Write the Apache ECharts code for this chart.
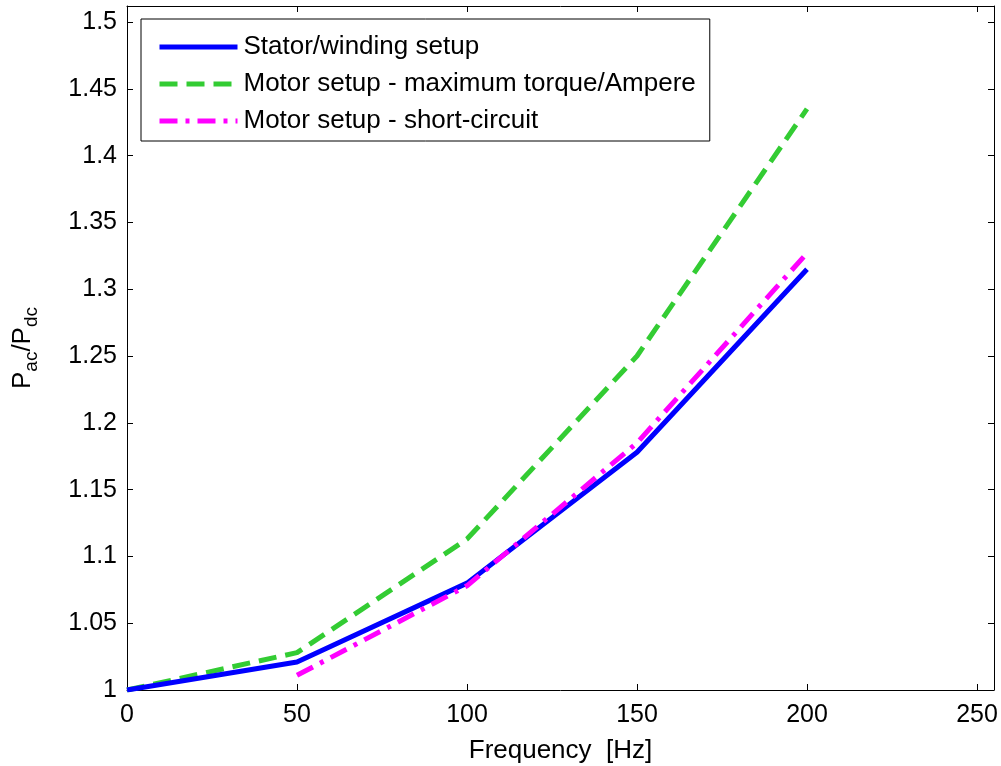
<!DOCTYPE html>
<html>
<head>
<meta charset="utf-8">
<script src="https://cdn.jsdelivr.net/npm/echarts@6/dist/echarts.min.js"></script>
<style>
html,body{margin:0;padding:0;background:#fff;}
#c{width:1001px;height:766px;}
</style>
</head>
<body>
<div id="c"></div>
<script>
const freq = [0, 50, 100, 150, 200];
const stator = [1.0, 1.021, 1.08, 1.178, 1.315];
const motorMTPA = [1.0, 1.028, 1.113, 1.25, 1.435];
const shortCircuit = [null, 1.011, 1.078, 1.185, 1.327];
const seriesNames = ['Stator/winding setup', 'Motor setup - maximum torque/Ampere', 'Motor setup - short-circuit'];
const xTicks = [0, 50, 100, 150, 200, 250];
const yTicks = [1, 1.05, 1.1, 1.15, 1.2, 1.25, 1.3, 1.35, 1.4, 1.45, 1.5];

const FONT = 'Liberation Sans, Arial, sans-serif';
function pairs(ys){ return freq.map((x,i)=>[x, ys[i]]); }
function isTick(list, v){ return list.some(t => Math.abs(t - v) < 1e-9); }

const chart = echarts.init(document.getElementById('c'), null, {renderer:'canvas'});
const axCommon = {
  axisLine:{show:true, onZero:false, lineStyle:{color:'#000', width:1}},
  axisTick:{show:true, inside:true, length:6, lineStyle:{color:'#000', width:1}},
  splitLine:{show:false}
};
chart.setOption({
  animation:false,
  backgroundColor:'#fff',
  textStyle:{fontFamily:FONT},
  grid:{left:127, top:6, right:7, bottom:76, containLabel:false, outerBoundsMode:'none'},
  legend:{
    orient:'vertical', left:141, top:19,
    data:seriesNames,
    itemWidth:78, itemHeight:14, itemGap:11,
    padding:[15,14,7,16],
    borderColor:'#000', borderWidth:1, backgroundColor:'#fff',
    itemStyle:{opacity:0, borderWidth:0},
    lineStyle:{width:5},
    textStyle:{fontFamily:FONT, fontSize:26, color:'#000', padding:[0,0,0,1]},
    selectedMode:false
  },
  xAxis:[
    Object.assign({}, axCommon, {
      type:'value', min:0, max:255, interval:50, position:'bottom',
      name:'Frequency  [Hz]', nameLocation:'middle', nameGap:48,
      nameTextStyle:{fontFamily:FONT, fontSize:26, color:'#000'},
      axisLabel:{fontFamily:FONT, fontSize:25, color:'#000', margin:13,
        formatter:v => isTick(xTicks, v) ? String(v) : ''}
    }),
    Object.assign({}, axCommon, {
      type:'value', min:0, max:255, interval:50, position:'top',
      axisLabel:{show:false}
    })
  ],
  yAxis:[
    Object.assign({}, axCommon, {
      type:'value', min:1, max:1.512, interval:0.05, position:'left',
      name:'{p|P}{s|ac}{p|/P}{s|dc}', nameLocation:'middle', nameGap:86, nameRotate:90,
      nameTextStyle:{fontFamily:FONT, color:'#000',
        rich:{
          p:{fontFamily:FONT, fontSize:26, color:'#000'},
          s:{fontFamily:FONT, fontSize:19, color:'#000', padding:[18,0,0,0]}
        }},
      axisLabel:{fontFamily:FONT, fontSize:25, color:'#000', margin:10,
        formatter:v => isTick(yTicks, v) ? String(parseFloat(v.toFixed(2))) : ''}
    }),
    Object.assign({}, axCommon, {
      type:'value', min:1, max:1.512, interval:0.05, position:'right',
      axisLabel:{show:false}
    })
  ],
  series:[
    {name:seriesNames[0], type:'line', data:pairs(stator), symbol:'none', showSymbol:false,
     lineStyle:{color:'#0000ff', width:5, type:'solid'}, itemStyle:{color:'#0000ff'}, z:3},
    {name:seriesNames[1], type:'line', data:pairs(motorMTPA), symbol:'none', showSymbol:false,
     lineStyle:{color:'#33cc33', width:5, type:[18,9]}, itemStyle:{color:'#33cc33'}, z:2},
    {name:seriesNames[2], type:'line', data:pairs(shortCircuit), symbol:'none', showSymbol:false, connectNulls:false,
     lineStyle:{color:'#ff00ff', width:5, type:[18,8,4,8]}, itemStyle:{color:'#ff00ff'}, z:4}
  ]
});
</script>
</body>
</html>
